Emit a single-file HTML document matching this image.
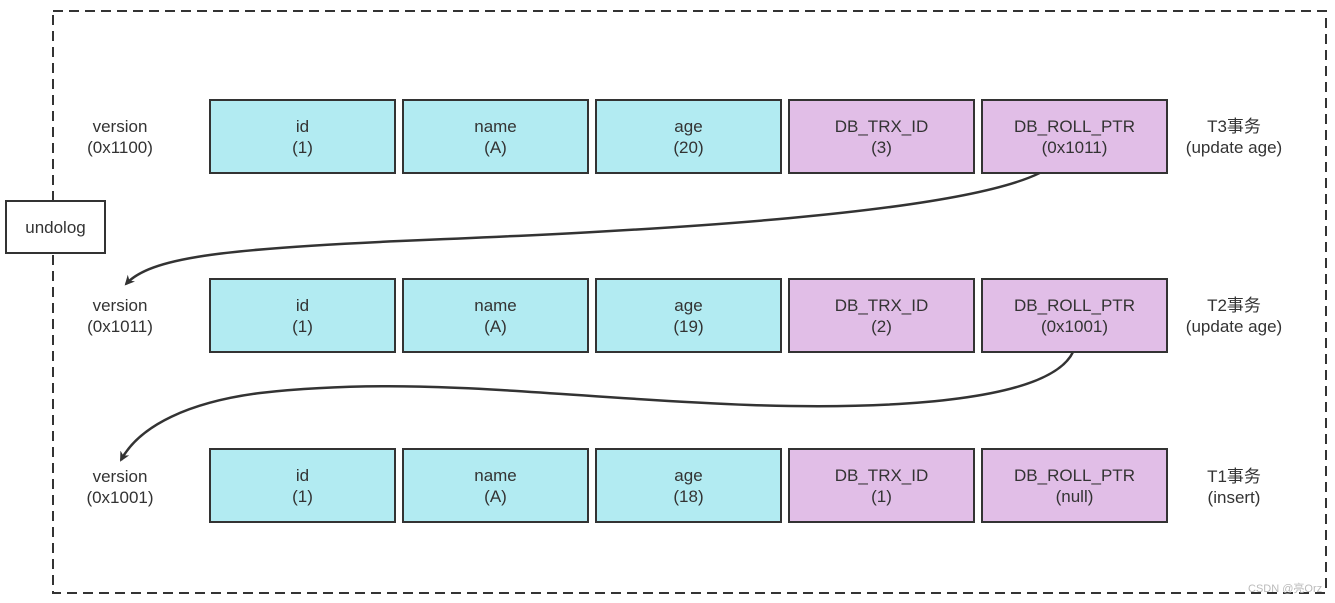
<!DOCTYPE html>
<html><head><meta charset="utf-8"><style>
body{margin:0;width:1335px;height:603px;background:#fff;overflow:hidden;position:relative;font-family:"Liberation Sans","Noto Sans CJK SC",sans-serif;color:#333}
.b{position:absolute;box-sizing:border-box;border:2px solid #333;display:flex;align-items:center;justify-content:center;text-align:center;font-size:17px;line-height:21px}
.c{background:#b2ebf2}.p{background:#e1bee7}
.t{position:absolute;text-align:center;font-size:17px;line-height:21px;width:140px}
</style></head><body>
<svg width="1335" height="603" style="position:absolute;left:0;top:0">
<rect x="53" y="11" width="1273" height="582" fill="none" stroke="#333" stroke-width="2" stroke-dasharray="10,6"/>
<defs><marker id="a" markerWidth="10" markerHeight="10" refX="8" refY="5" orient="auto" markerUnits="userSpaceOnUse"><path d="M0,0 L10,5 L0,10 L3,5z" fill="#333"/></marker></defs>
<path d="M1055,163 C1000,215 620,232 400,241 C220,249 150,258 126,284" fill="none" stroke="#333" stroke-width="2.5" marker-end="url(#a)"/>
<path d="M1073,352 C1050,400 900,410 750,405 C560,398 420,375 260,393 C190,402 140,425 121,460" fill="none" stroke="#333" stroke-width="2.5" marker-end="url(#a)"/>
</svg>
<div class="b" style="left:5px;top:200px;width:101px;height:54px;background:#fff">undolog</div>
<div class="t" style="left:50px;top:116px">version<br>(0x1100)</div>
<div class="t" style="left:50px;top:295px">version<br>(0x1011)</div>
<div class="t" style="left:50px;top:466px">version<br>(0x1001)</div>
<div class="t" style="left:1164px;top:116px">T3事务<br>(update age)</div>
<div class="t" style="left:1164px;top:295px">T2事务<br>(update age)</div>
<div class="t" style="left:1164px;top:466px">T1事务<br>(insert)</div>

<div class="b c" style="left:209px;top:99px;width:187px;height:75px">id<br>(1)</div>
<div class="b c" style="left:402px;top:99px;width:187px;height:75px">name<br>(A)</div>
<div class="b c" style="left:595px;top:99px;width:187px;height:75px">age<br>(20)</div>
<div class="b p" style="left:788px;top:99px;width:187px;height:75px">DB_TRX_ID<br>(3)</div>
<div class="b p" style="left:981px;top:99px;width:187px;height:75px">DB_ROLL_PTR<br>(0x1011)</div>

<div class="b c" style="left:209px;top:278px;width:187px;height:75px">id<br>(1)</div>
<div class="b c" style="left:402px;top:278px;width:187px;height:75px">name<br>(A)</div>
<div class="b c" style="left:595px;top:278px;width:187px;height:75px">age<br>(19)</div>
<div class="b p" style="left:788px;top:278px;width:187px;height:75px">DB_TRX_ID<br>(2)</div>
<div class="b p" style="left:981px;top:278px;width:187px;height:75px">DB_ROLL_PTR<br>(0x1001)</div>

<div class="b c" style="left:209px;top:448px;width:187px;height:75px">id<br>(1)</div>
<div class="b c" style="left:402px;top:448px;width:187px;height:75px">name<br>(A)</div>
<div class="b c" style="left:595px;top:448px;width:187px;height:75px">age<br>(18)</div>
<div class="b p" style="left:788px;top:448px;width:187px;height:75px">DB_TRX_ID<br>(1)</div>
<div class="b p" style="left:981px;top:448px;width:187px;height:75px">DB_ROLL_PTR<br>(null)</div>
<div style="position:absolute;left:1248px;top:580px;font-size:11px;color:#bbb">CSDN @亮Orz</div>
</body></html>
